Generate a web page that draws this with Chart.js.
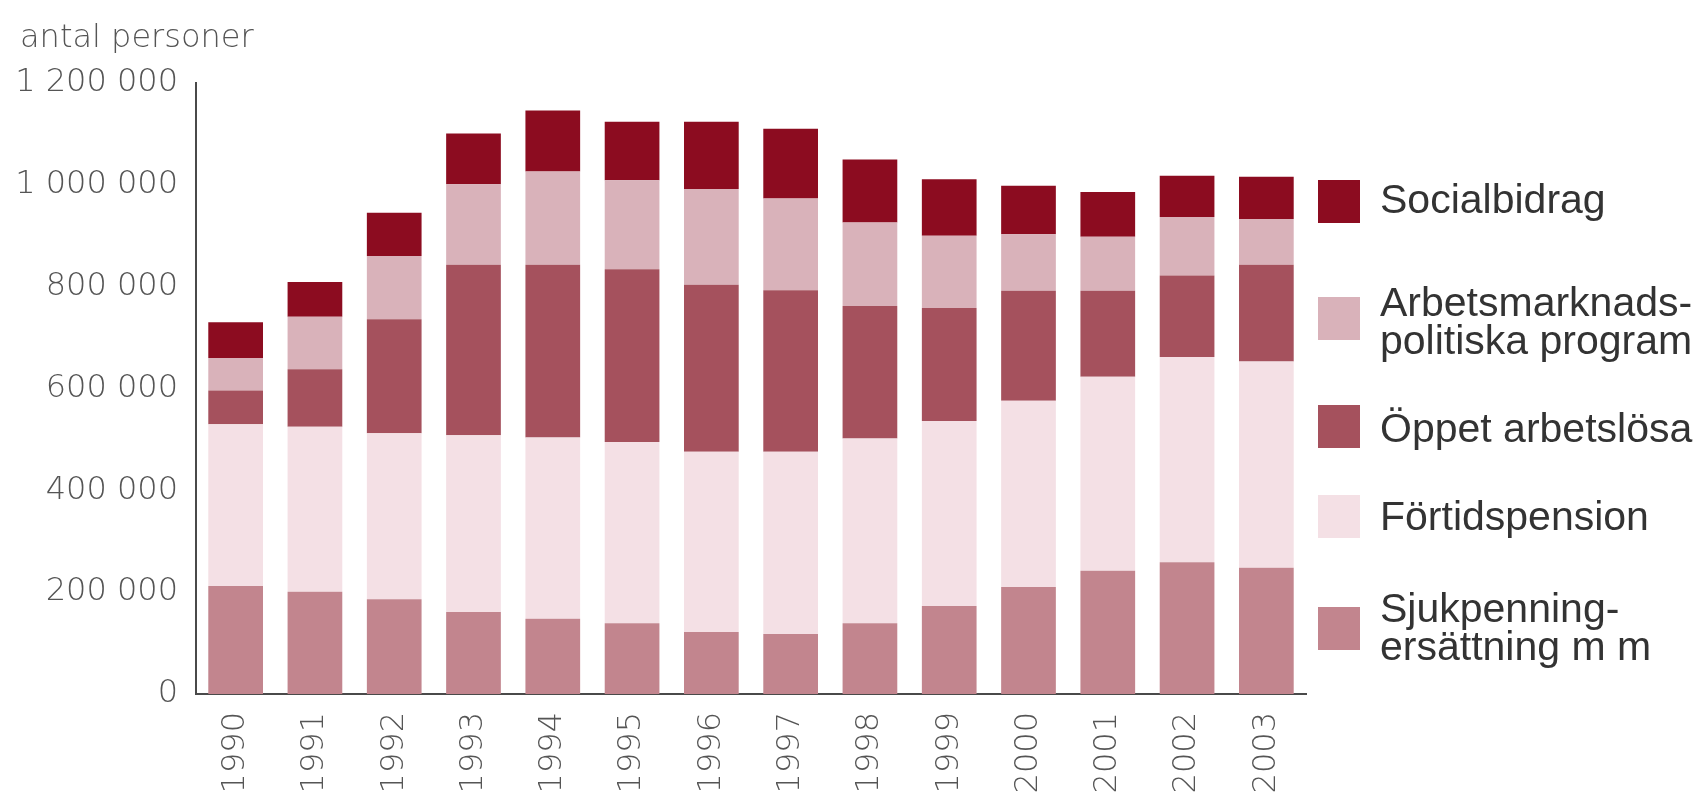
<!DOCTYPE html>
<html>
<head>
<meta charset="utf-8">
<script src="https://cdn.jsdelivr.net/npm/chart.js@4"></script>
<style>
  html, body { margin: 0; padding: 0; background: #ffffff; }
  #wrap { position: relative; width: 1702px; height: 810px; overflow: hidden; }
  canvas { position: absolute; left: 0; top: 0; }
  .ytitle { position: absolute; left: 20px; top: 20px; font-family: "DejaVu Sans", sans-serif; font-weight: 200; font-size: 32px; line-height: 32px; color: #555555; white-space: nowrap; }
  .sw { position: absolute; left: 1318px; width: 42px; height: 43px; }
  .lt { position: absolute; left: 1380px; font-family: "Liberation Sans", Arial, sans-serif; font-size: 41px; line-height: 38px; color: #333; white-space: nowrap; }
</style>
</head>
<body>
<div id="wrap">
  <canvas id="c" width="1702" height="810"></canvas>
  <div class="ytitle">antal personer</div>
  <div id="legend"></div>
</div>
<script>
// Categories (years)
const years = ["1990","1991","1992","1993","1994","1995","1996","1997","1998","1999","2000","2001","2002","2003"];

// Series values (number of persons)
const sjukpenning     = [212000, 201000, 186000, 161000, 148000, 139000, 122000, 118000, 139000, 173000, 210000, 242000, 259000, 248000];
const fortidspension  = [318000, 324000, 326000, 347000, 356000, 356000, 354000, 358000, 363000, 363000, 366000, 381000, 403000, 405000];
const oppetArbetslosa = [ 66000, 113000, 224000, 335000, 339000, 339000, 328000, 317000, 260000, 222000, 216000, 169000, 160000, 190000];
const arbetsmarknad   = [ 64000, 103000, 124000, 158000, 183000, 175000, 188000, 180000, 164000, 142000, 111000, 106000, 115000,  90000];
const socialbidrag    = [ 70000,  68000,  85000, 100000, 120000, 115000, 132000, 137000, 124000, 111000,  95000,  88000,  81000,  83000];

// Series names (legend)
const seriesNames = {
  social: "Socialbidrag",
  arbets: "Arbetsmarknads-\npolitiska program",
  oppet: "Öppet arbetslösa",
  fortid: "Förtidspension",
  sjuk: "Sjukpenning-\nersättning m m"
};

// Y tick labels
const yTicks = [0, 200000, 400000, 600000, 800000, 1000000, 1200000];
const yTickLabels = ["0", "200 000", "400 000", "600 000", "800 000", "1 000 000", "1 200 000"];

const colors = {
  social: "#8c0c20",
  arbets: "#d9b2ba",
  oppet: "#a5515d",
  fortid: "#f4e0e5",
  sjuk: "#c2858e"
};

const datasets = [
  { label: seriesNames.sjuk,   data: sjukpenning,     backgroundColor: colors.sjuk },
  { label: seriesNames.fortid, data: fortidspension,  backgroundColor: colors.fortid },
  { label: seriesNames.oppet,  data: oppetArbetslosa, backgroundColor: colors.oppet },
  { label: seriesNames.arbets, data: arbetsmarknad,   backgroundColor: colors.arbets },
  { label: seriesNames.social, data: socialbidrag,    backgroundColor: colors.social }
].map(d => Object.assign(d, { stack: "s", borderWidth: 0, barPercentage: 0.69, categoryPercentage: 1.0 }));

new Chart(document.getElementById("c"), {
  type: "bar",
  data: { labels: years, datasets },
  options: {
    responsive: false,
    animation: false,
    events: [],
    layout: { padding: { left: 0, top: 83, right: 396, bottom: 0 } },
    plugins: { legend: { display: false }, tooltip: { enabled: false }, title: { display: false } },
    scales: {
      x: {
        stacked: true,
        grid: { display: false, drawTicks: false },
        border: { display: true, color: "#4a4a4a", width: 2 },
        ticks: {
          color: "#555555",
          font: { family: "DejaVu Sans", size: 32, weight: 200 },
          minRotation: 90, maxRotation: 90, padding: 18, autoSkip: false
        },
        afterFit: s => { s.height = 116; }
      },
      y: {
        stacked: true,
        min: 0, max: 1200000,
        grid: { display: false, drawTicks: false },
        border: { display: true, color: "#4a4a4a", width: 2 },
        afterBuildTicks: s => { s.ticks = yTicks.map(v => ({ value: v })); },
        ticks: {
          color: "#555555",
          font: { family: "DejaVu Sans", size: 32, weight: 200 },
          padding: 18,
          callback: (v) => { const i = yTicks.indexOf(v); return i >= 0 ? yTickLabels[i] : ""; }
        },
        afterFit: s => { s.width = 196; }
      }
    }
  }
});

// HTML legend (top to bottom)
const legendItems = [
  { key: "social", swTop: 180, txtTop: 180 },
  { key: "arbets", swTop: 297, txtTop: 283 },
  { key: "oppet",  swTop: 405, txtTop: 409 },
  { key: "fortid", swTop: 495, txtTop: 497 },
  { key: "sjuk",   swTop: 607, txtTop: 589 }
];
const lg = document.getElementById("legend");
legendItems.forEach(it => {
  const sw = document.createElement("div");
  sw.className = "sw";
  sw.style.top = it.swTop + "px";
  sw.style.background = colors[it.key];
  lg.appendChild(sw);
  const tx = document.createElement("div");
  tx.className = "lt";
  tx.style.top = it.txtTop + "px";
  tx.innerHTML = seriesNames[it.key].split("\n").join("<br>");
  lg.appendChild(tx);
});
</script>
</body>
</html>
